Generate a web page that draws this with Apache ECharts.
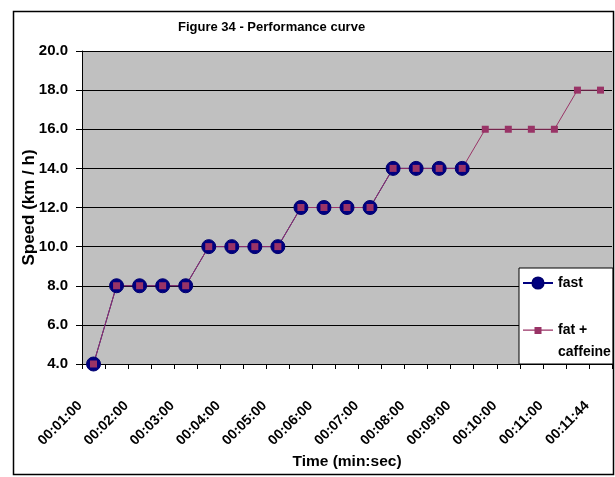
<!DOCTYPE html>
<html>
<head>
<meta charset="utf-8">
<script src="https://cdn.jsdelivr.net/npm/echarts@6/dist/echarts.min.js"></script>
<style>
  html, body { margin: 0; padding: 0; background: #ffffff; }
  #chart { width: 615px; height: 477px; }
</style>
</head>
<body>
<div id="chart"></div>
<script>
// Elapsed time of each stage (30 s steps, last one at 11:44)
const times = [
  '00:01:00', '00:01:30', '00:02:00', '00:02:30', '00:03:00', '00:03:30',
  '00:04:00', '00:04:30', '00:05:00', '00:05:30', '00:06:00', '00:06:30',
  '00:07:00', '00:07:30', '00:08:00', '00:08:30', '00:09:00', '00:09:30',
  '00:10:00', '00:10:30', '00:11:00', '00:11:30', '00:11:44'
];

// Speed (km/h) reached at each time, fasted run
const fastSpeed = [4, 8, 8, 8, 8, 10, 10, 10, 10, 12, 12, 12, 12, 14, 14, 14, 14];

// Speed (km/h) reached at each time, fat + caffeine run
const fatCaffeineSpeed = [4, 8, 8, 8, 8, 10, 10, 10, 10, 12, 12, 12, 12, 14, 14, 14, 14, 16, 16, 16, 16, 18, 18];

const seriesNames = ['fast', 'fat + caffeine'];

const FONT = 'Liberation Sans, Arial, sans-serif';

// Legend key for the second series: thin line with a small square,
// padded to the full 30x14 icon box so it is not stretched
const squareKey = 'path://M0,0h0.01v0.01h-0.01z M30,14h-0.01v-0.01h0.01z M0,6.5h30v1.2h-30z M11.5,4h7v7h-7z';

const chart = echarts.init(document.getElementById('chart'), null, { renderer: 'canvas' });

chart.setOption({
  backgroundColor: '#ffffff',
  animation: false,
  title: {
    text: 'Figure 34 - Performance curve',
    left: 178,
    top: 21,
    padding: 0,
    textStyle: { fontFamily: FONT, fontSize: 13, fontWeight: 'bold', color: '#000' }
  },
  graphic: [{
    type: 'rect',
    shape: { x: 13.5, y: 11.5, width: 600, height: 463 },
    style: { fill: 'none', stroke: '#000', lineWidth: 1.5 },
    silent: true,
    z: -1
  }],
  grid: {
    left: 82, right: 3, top: 51, bottom: 113,
    show: true, backgroundColor: '#C0C0C0', borderWidth: 0
  },
  legend: {
    orient: 'vertical',
    left: 519,
    top: 268,
    padding: [4, 2, 1, 3],
    itemGap: 3,
    itemWidth: 30,
    itemHeight: 14,
    backgroundColor: '#ffffff',
    borderColor: '#000',
    borderWidth: 1,
    textStyle: { fontFamily: FONT, fontSize: 14, fontWeight: 'bold', color: '#000', lineHeight: 22 },
    formatter: name => name === seriesNames[1] ? '\nfat +\ncaffeine' : name,
    data: [
      { name: seriesNames[0] },
      { name: seriesNames[1], icon: squareKey, itemStyle: { color: '#993366' } }
    ]
  },
  xAxis: {
    type: 'category',
    data: times,
    boundaryGap: true,
    name: 'Time (min:sec)',
    nameLocation: 'middle',
    nameGap: 90,
    nameMoveOverlap: false,
    nameTextStyle: { fontFamily: FONT, fontSize: 15.5, fontWeight: 'bold', color: '#000' },
    axisLine: { lineStyle: { color: '#000', width: 1 } },
    axisTick: { show: true, interval: 0, length: 5, lineStyle: { color: '#000' } },
    axisLabel: {
      interval: (index) => index % 2 === 0,
      rotate: 45,
      margin: 26,
      padding: [0, 19, 0, 0],
      fontFamily: FONT, fontSize: 14, fontWeight: 'bold', color: '#000'
    },
    splitLine: { show: false }
  },
  yAxis: {
    type: 'value',
    min: 4,
    max: 20,
    interval: 2,
    name: 'Speed (km / h)',
    nameLocation: 'middle',
    nameGap: 44,
    nameRotate: 90,
    nameMoveOverlap: false,
    nameTextStyle: { fontFamily: FONT, fontSize: 17, fontWeight: 'bold', color: '#000' },
    axisLine: { show: true, lineStyle: { color: '#000', width: 1 } },
    axisTick: { show: true, length: 6, lineStyle: { color: '#000' } },
    axisLabel: {
      margin: 14,
      formatter: v => v.toFixed(1),
      fontFamily: FONT, fontSize: 15, fontWeight: 'bold', color: '#000'
    },
    splitLine: { show: true, lineStyle: { color: '#000', width: 1 } }
  },
  series: [
    {
      name: seriesNames[0],
      type: 'line',
      data: fastSpeed,
      symbol: 'circle',
      symbolSize: 14,
      lineStyle: { color: '#000080', width: 1 },
      itemStyle: { color: '#000080', borderColor: '#000070', borderWidth: 1 }
    },
    {
      name: seriesNames[1],
      type: 'line',
      data: fatCaffeineSpeed,
      symbol: 'rect',
      symbolSize: 7,
      lineStyle: { color: '#993366', width: 1 },
      itemStyle: { color: '#993366' }
    }
  ]
});
</script>
</body>
</html>
